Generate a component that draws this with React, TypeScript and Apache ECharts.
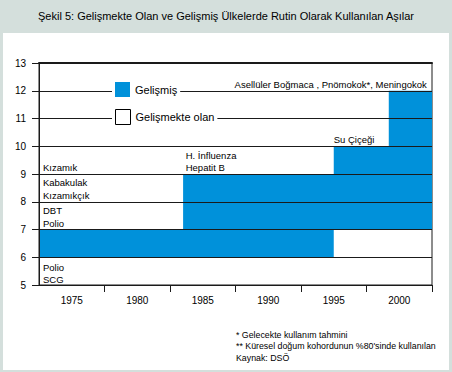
import React, { useEffect, useRef } from 'react';
import * as echarts from 'echarts';

const titleText = 'Şekil 5: Gelişmekte Olan ve Gelişmiş Ülkelerde Rutin Olarak Kullanılan Aşılar';
const years = ['1975', '1980', '1985', '1990', '1995', '2000'];
const seriesNames = ['Gelişmiş', 'Gelişmekte olan'];

// Developed-country usage bands (years on a continuous scale, rows on the y scale)
const bandStart = [1972.5, 1983.5, 1995, 1999.2];
const bandEnd = [1995, 2002.5, 2002.5, 2002.5];
const bandLow = [6, 7, 9, 10];
const bandHigh = [7, 9, 10, 12];

// Vaccine annotations
const vaccineLabels = [
  'Kızamık', 'Kabakulak', 'Kızamıkçık', 'DBT', 'Polio', 'Polio', 'SCG',
  'H. İnfluenza', 'Hepatit B', 'Su Çiçeği', 'Asellüler Boğmaca , Pnömokok*, Meningokok',
];
const vaccineX = [1972.8, 1972.8, 1972.8, 1972.8, 1972.8, 1972.8, 1972.8, 1983.7, 1983.7, 1995.0, 2002.1];
const vaccineY = [9.25, 8.69, 8.22, 7.68, 7.22, 5.64, 5.21, 9.68, 9.22, 10.23, 12.24];
const vaccineAlign = ['left', 'left', 'left', 'left', 'left', 'left', 'left', 'left', 'left', 'left', 'right'];

const footnotes = [
  '* Gelecekte kullanım tahmini',
  "** Küresel doğum kohordunun %80'sinde kullanılan",
  'Kaynak: DSÖ',
];

const FONT = 'Arial, "Liberation Sans", sans-serif';
const BLUE = '#0091da';

export default function App() {
  const ref = useRef<HTMLDivElement>(null);
  useEffect(() => {
    if (!ref.current) return;
    const chart = echarts.init(ref.current, null, { renderer: 'svg' });
    const bandData = bandStart.map((s, i) => [s, bandEnd[i], bandLow[i], bandHigh[i]]);
    const annData = vaccineX.map((x, i) => [x, vaccineY[i]]);
    chart.setOption({
      animation: false,
      backgroundColor: 'transparent',
      title: {
        text: titleText,
        left: 'center',
        top: 10,
        padding: 0,
        textStyle: { fontFamily: FONT, fontSize: 11, fontWeight: 'normal', color: '#000' },
      },
      grid: {
        left: 39, right: 20, top: 63, bottom: 87,
        show: true, borderColor: '#1a1a1a', borderWidth: 1, backgroundColor: 'transparent',
      },
      legend: [
        {
          data: [{ name: seriesNames[0], icon: 'rect', itemStyle: { color: BLUE } }],
          left: 112, top: 82, orient: 'vertical', selectedMode: false,
          itemWidth: 15, itemHeight: 15, backgroundColor: '#fff', padding: [0, 3, 0, 3],
          textStyle: { fontFamily: FONT, fontSize: 11, color: '#000' },
        },
        {
          data: [{ name: seriesNames[1], icon: 'rect', itemStyle: { color: '#fff', borderColor: '#000', borderWidth: 1 } }],
          left: 112, top: 109, orient: 'vertical', selectedMode: false,
          itemWidth: 15, itemHeight: 15, backgroundColor: '#fff', padding: [0, 3, 0, 3],
          textStyle: { fontFamily: FONT, fontSize: 11, color: '#000' },
        },
      ],
      xAxis: [
        {
          type: 'category', data: years, position: 'bottom', boundaryGap: true, z: 3,
          axisLine: { show: true, lineStyle: { color: '#1a1a1a', width: 1 } },
          axisTick: {
            show: true, length: 7, lineStyle: { color: '#1a1a1a' },
            interval: (i: number) => i !== 0 && i !== years.length,
          },
          axisLabel: { fontFamily: FONT, fontSize: 10, color: '#000', margin: 10 },
          splitLine: { show: false },
        },
        {
          type: 'value', min: 1972.5, max: 2002.5, position: 'top', z: 3,
          axisLine: { show: true, onZero: false, lineStyle: { color: '#1a1a1a', width: 2 } },
          axisTick: { show: false }, axisLabel: { show: false }, splitLine: { show: false },
        },
      ],
      yAxis: {
        type: 'value', min: 5, max: 13, interval: 1, z: 3,
        axisLine: { show: true, lineStyle: { color: '#1a1a1a', width: 1 } },
        axisTick: { show: true, length: 7, lineStyle: { color: '#1a1a1a' } },
        axisLabel: { fontFamily: FONT, fontSize: 10, color: '#000', margin: 13 },
        splitLine: { show: true, lineStyle: { color: '#1a1a1a', width: 1 } },
      },
      series: [
        {
          name: seriesNames[0], type: 'custom', xAxisIndex: 1, yAxisIndex: 0, z: 1,
          itemStyle: { color: BLUE },
          encode: { x: [0, 1], y: [2, 3] },
          data: bandData,
          renderItem: (params: any, api: any) => {
            const p0 = api.coord([api.value(0), api.value(3)]);
            const p1 = api.coord([api.value(1), api.value(2)]);
            return {
              type: 'rect',
              shape: { x: p0[0], y: p0[1], width: p1[0] - p0[0], height: p1[1] - p0[1] },
              style: { fill: BLUE },
            };
          },
        },
        {
          name: seriesNames[1], type: 'custom', xAxisIndex: 1, yAxisIndex: 0,
          itemStyle: { color: '#fff', borderColor: '#000', borderWidth: 1 },
          data: [],
          renderItem: () => null,
        },
        {
          name: 'annotations', type: 'custom', xAxisIndex: 1, yAxisIndex: 0, z: 5,
          encode: { x: 0, y: 1 },
          data: annData,
          silent: true,
          renderItem: (params: any, api: any) => {
            const i = params.dataIndex;
            const p = api.coord([api.value(0), api.value(1)]);
            return {
              type: 'text', x: p[0], y: p[1],
              style: {
                text: vaccineLabels[i], fill: '#000', font: `9.5px ${FONT}`,
                align: vaccineAlign[i], verticalAlign: 'middle',
                textAlign: vaccineAlign[i], textVerticalAlign: 'middle',
              },
            };
          },
        },
      ],
      graphic: footnotes.map((t, i) => ({
        type: 'text', left: 236, top: 330 + i * 11.7,
        style: { text: t, fill: '#000', font: `8.8px ${FONT}` },
      })),
    });
    return () => chart.dispose();
  }, []);
  return (
    <div style={{ position: 'fixed', left: 0, top: 0, width: 452, height: 372, background: '#d4dfdc' }}>
      <div style={{ position: 'absolute', left: 3, top: 33, width: 446, height: 337, background: '#fff' }} />
      <div ref={ref} style={{ position: 'absolute', left: 0, top: 0, width: 452, height: 372 }} />
    </div>
  );
}
